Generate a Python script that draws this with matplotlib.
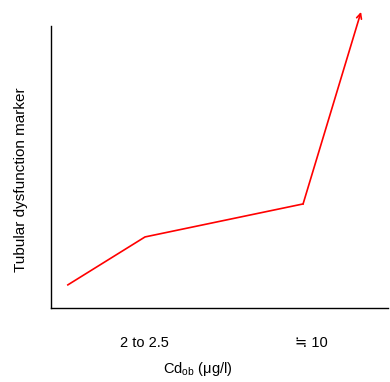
import matplotlib
matplotlib.use("Agg")
import matplotlib.pyplot as plt

plt.rcParams['font.family'] = ['Liberation Sans', 'DejaVu Sans']

x_vals = [0.5, 2.79, 7.48, 9.2]
y_vals = [0.82, 2.52, 3.69, 10.5]
tick_pos = [2.78, 7.72]
tick_labels = ["2 to 2.5", "≒ 10"]

fig = plt.figure(figsize=(3.9, 3.82), dpi=100)
ax = fig.add_axes([51/390, 74/382, 337/390, 282/382])
ax.set_xlim(0, 10)
ax.set_ylim(0, 10)

ax.plot(x_vals[:-1], y_vals[:-1], color='red', lw=1.2, clip_on=False)
ax.annotate("", xy=(x_vals[-1], y_vals[-1]), xytext=(x_vals[-2], y_vals[-2]),
            arrowprops=dict(arrowstyle='->', color='red', lw=1.2, shrinkA=0, shrinkB=0,
                            mutation_scale=9),
            annotation_clip=False)

ax.spines['top'].set_visible(False)
ax.spines['right'].set_visible(False)
ax.spines['left'].set_linewidth(1.0)
ax.spines['bottom'].set_linewidth(1.0)
ax.set_yticks([])
ax.set_xticks(tick_pos)
ax.set_xticklabels(tick_labels, fontsize=10.5)
ax.tick_params(axis='x', length=0, pad=20)
ax.set_xlabel("Cd$_{\\mathregular{ob}}$ (μg/l)", fontsize=10.5, va='center')
ax.xaxis.set_label_coords((198-51)/337, (308-369)/282)
ax.set_ylabel("Tubular dysfunction marker", fontsize=11, va='center')
ax.yaxis.set_label_coords((21-51)/337, (308-180)/282)

fig.savefig("out.png", dpi=100)
